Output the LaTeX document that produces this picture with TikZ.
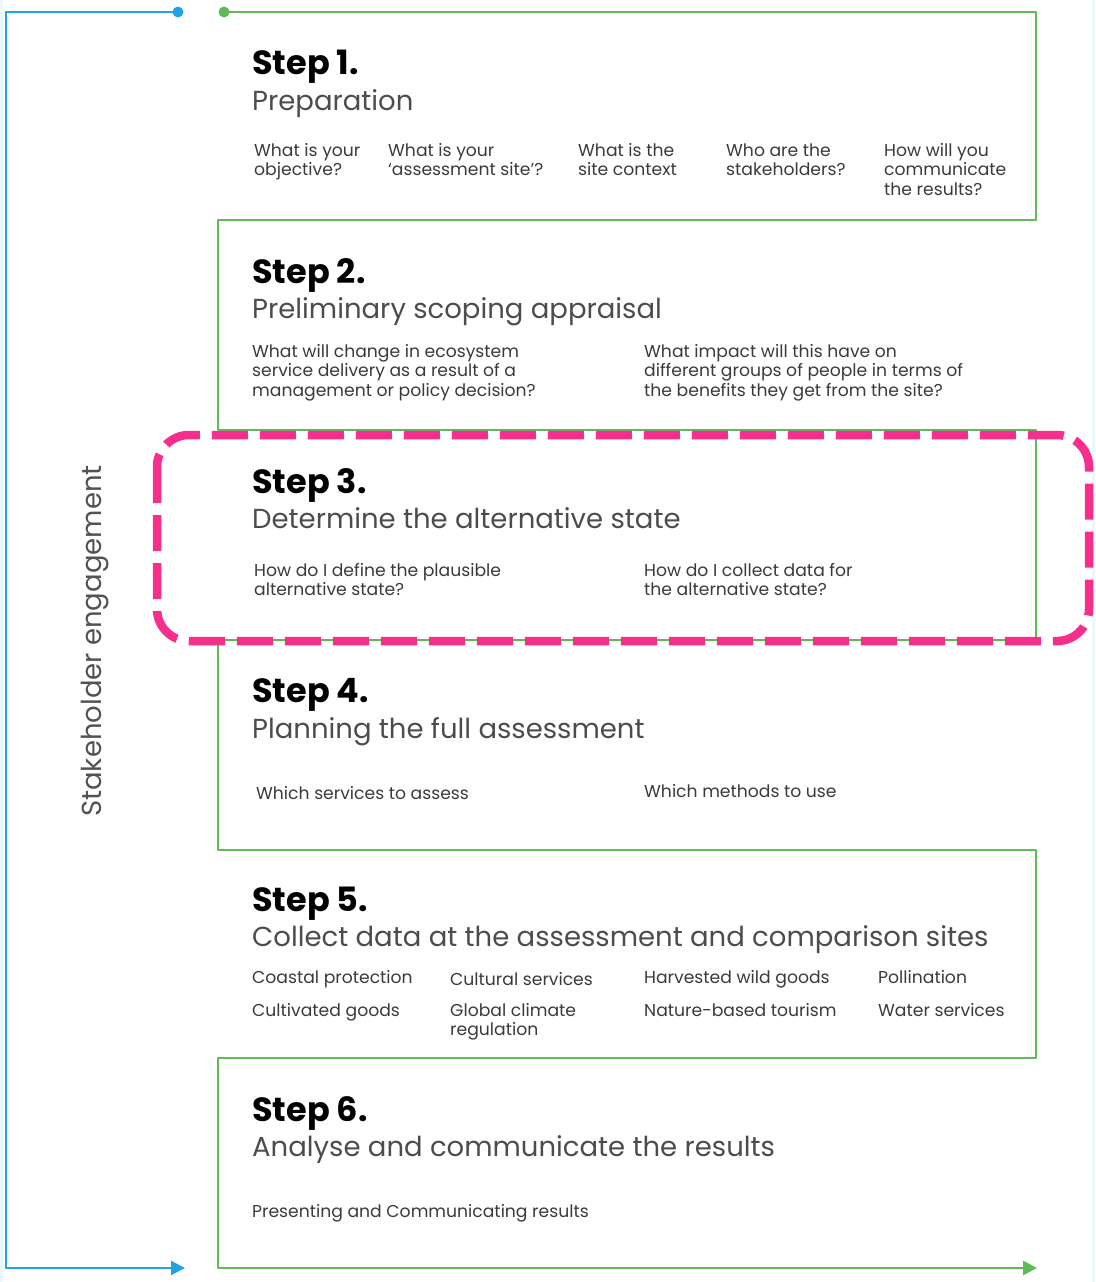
\documentclass[tikz,border=0pt]{standalone}
\usepackage{fontspec}
\setmainfont{Poppins}
\usepackage{xcolor}
\usetikzlibrary{arrows.meta,positioning}
\definecolor{stepgreen}{RGB}{94,186,84}
\definecolor{engblue}{RGB}{32,162,228}
\definecolor{focuspink}{RGB}{246,46,140}
\definecolor{qgray}{RGB}{58,58,62}
\tikzstyle{arrow} = [-{Triangle[length=14pt,width=14pt]}]

\begin{document}
\begin{tikzpicture}[x=1pt,y=-1pt]
    \tikzstyle{title} = [anchor=base west, inner sep=0pt, font=\fontsize{33.5}{38}\selectfont\bfseries, text=black]
    \tikzstyle{subtitle} = [anchor=base west, inner sep=0pt, font=\fontsize{27.5}{32}\selectfont, text=black!70]
    % multi-line questions sit on the baseline of their last line
    \tikzstyle{question} = [anchor=base west, inner sep=0pt, align=left, font=\fontsize{17.2}{19.5}\selectfont, text=qgray]
    \tikzstyle{flow} = [draw=stepgreen, line width=2.6pt, line join=round]
    \tikzstyle{engage} = [draw=engblue, line width=2.3pt, line join=round]
    \tikzstyle{focus} = [draw=focuspink, line width=8.5pt, rounded corners=32pt, dash pattern=on 36pt off 12pt]
    \useasboundingbox (0,0) rectangle (1095,1282);
    \draw[cyan!8, line width=3pt] (1,0) -- (1,1282);
    \draw[cyan!8, line width=3pt] (1093,0) -- (1093,1282);

    % stakeholder loop
    \coordinate (bstart) at (178,12);
    \coordinate (bend) at (185,1268);
    \fill[engblue] (bstart) circle (5.5pt);
    \draw[engage, arrow] (bstart) -- (6,12) -- (6,1268) -- (bend);
    \node (engage) [rotate=90, font=\fontsize{27.5}{32}\selectfont, text=black!68] at (95,641) {Stakeholder engagement};

    % step path
    \coordinate (gstart) at (224,12);
    \coordinate (gend) at (1037,1268);
    \fill[stepgreen] (gstart) circle (5.5pt);
    \draw[flow, arrow] (gstart) -- (1036,12) -- (1036,220) -- (218,220) -- (218,430)
        -- (1036,430) -- (1036,640) -- (218,640) -- (218,850) -- (1036,850)
        -- (1036,1058) -- (218,1058) -- (218,1268) -- (gend);

    % Step 1
    \node [title] (s1) at (252,74) {Step 1.};
    \node [subtitle] (s1sub) at (252,110) {Preparation};
    \node [question] (s1q1) at (254,175.5) {What is your\\objective?};
    \node [question] (s1q2) at (388,175.5) {What is your\\‘assessment site’?};
    \node [question] (s1q3) at (578,175.5) {What is the\\site context};
    \node [question] (s1q4) at (726,175.5) {Who are the\\stakeholders?};
    \node [question] (s1q5) at (884,195) {How will you\\communicate\\the results?};

    % Step 2
    \node [title] (s2) at (252,283) {Step 2.};
    \node [subtitle] (s2sub) at (252,318) {Preliminary scoping appraisal};
    \node [question] (s2q1) at (252,396) {What will change in ecosystem\\service delivery as a result of a\\management or policy decision?};
    \node [question] (s2q2) at (644,396) {What impact will this have on\\different groups of people in terms of\\the benefits they get from the site?};

    % Step 3
    \node [title] (s3) at (252,493) {Step 3.};
    \node [subtitle] (s3sub) at (252,528) {Determine the alternative state};
    \node [question] (s3q1) at (254,595.5) {How do I define the plausible\\alternative state?};
    \node [question] (s3q2) at (644,595.5) {How do I collect data for\\the alternative state?};
    \draw[focus] (157,435) rectangle (1089,641);

    % Step 4
    \node [title] (s4) at (252,702) {Step 4.};
    \node [subtitle] (s4sub) at (252,738) {Planning the full assessment};
    \node [question] (s4q1) at (256,799) {Which services to assess};
    \node [question] (s4q2) at (644,797) {Which methods to use};

    % Step 5
    \node [title] (s5) at (252,911) {Step 5.};
    \node [subtitle] (s5sub) at (252,946) {Collect data at the assessment and comparison sites};
    \node [question] (s5a) at (252,983) {Coastal protection};
    \node [question] (s5b) at (450,985) {Cultural services};
    \node [question] (s5c) at (644,983) {Harvested wild goods};
    \node [question] (s5d) at (878,983) {Pollination};
    \node [question] (s5e) at (252,1016) {Cultivated goods};
    \node [question] (s5f) at (450,1035.5) {Global climate\\regulation};
    \node [question] (s5g) at (644,1016) {Nature-based tourism};
    \node [question] (s5h) at (878,1016) {Water services};

    % Step 6
    \node [title] (s6) at (252,1121) {Step 6.};
    \node [subtitle] (s6sub) at (252,1156) {Analyse and communicate the results};
    \node [question] (s6q1) at (252,1217) {Presenting and Communicating results};

\end{tikzpicture}
\end{document}
